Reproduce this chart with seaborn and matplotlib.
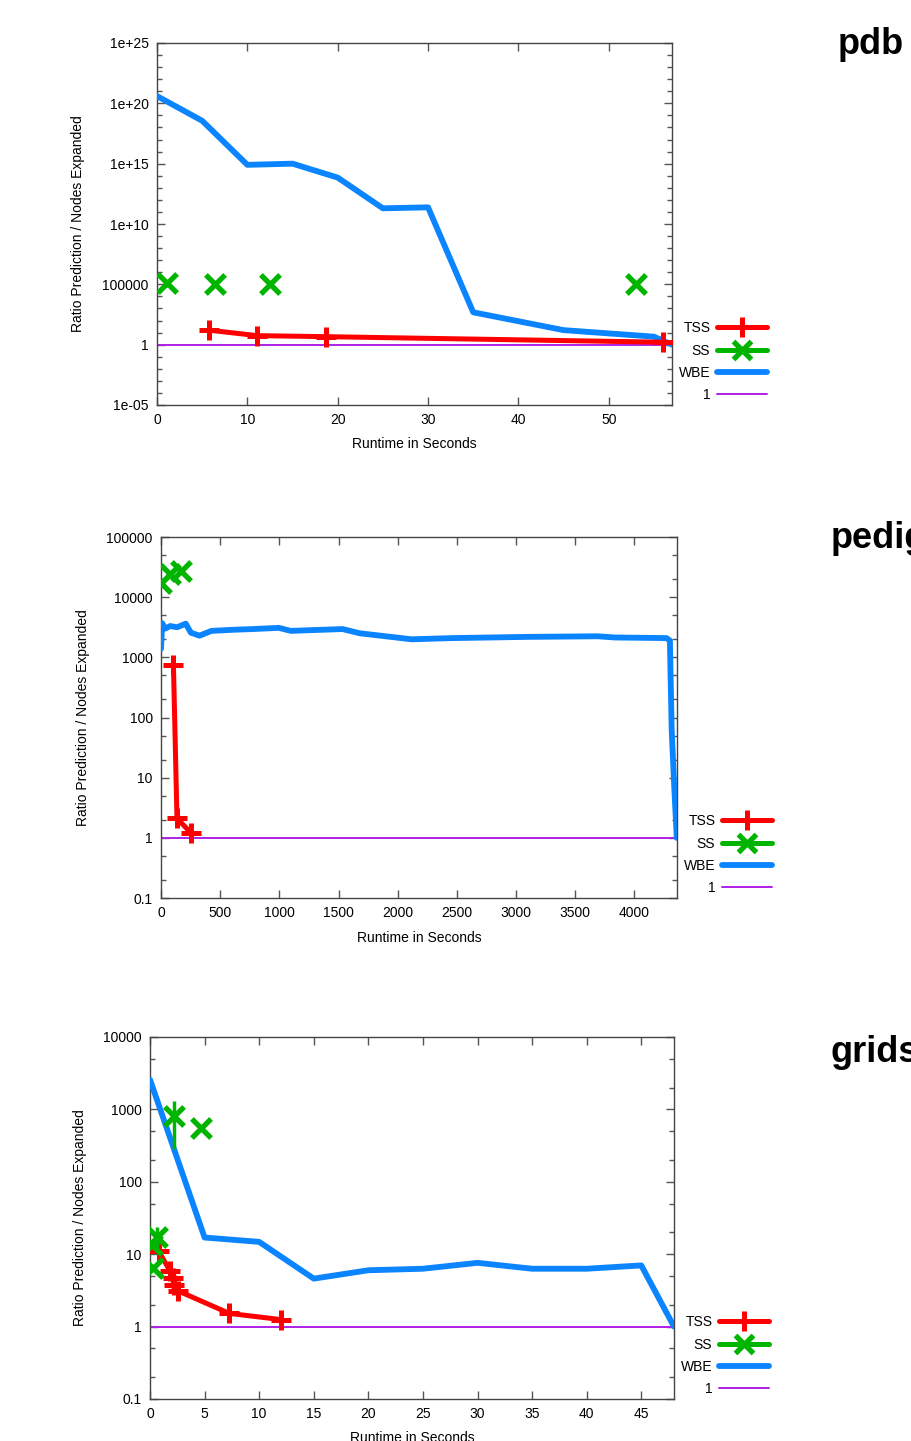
import numpy as np
import pandas as pd
import seaborn as sns
import matplotlib.pyplot as plt
from matplotlib.lines import Line2D
from matplotlib.ticker import LogLocator, NullFormatter, MultipleLocator, FixedLocator


# pdb
PDB_WBE_T = [0, 5, 10, 15, 20, 25, 30, 35, 45, 55, 57]
PDB_WBE_R = [4e20, 3.6e18, 8e14, 1e15, 7e13, 2e11, 2.4e11, 480, 16, 4.6, 1]
PDB_TSS_T = [5.7, 11.1, 18.7, 56]
PDB_TSS_R = [16, 5.6, 4.6, 1.6]
PDB_SS_T = [1.1, 6.4, 12.5, 53]
PDB_SS_R = [1.2e5, 1.1e5, 1.1e5, 1.1e5]
PDB_SS_LO = [0.6e5, 1.1e5, 1.1e5, 1.1e5]
PDB_SS_HI = [2.2e5, 1.1e5, 1.1e5, 1.1e5]

# pedigree
PED_WBE_T = [0, 10, 34, 78, 136, 209, 252, 325, 427, 631, 776, 995, 1097,
             1534, 1679, 1941, 2116, 2466, 3106, 3689, 3834, 4271, 4300,
             4315, 4335, 4358]
PED_WBE_R = [1380, 3700, 3000, 3311, 3162, 3630, 2570, 2290, 2754, 2884,
             2951, 3090, 2754, 2951, 2512, 2188, 1995, 2089, 2188, 2239,
             2138, 2089, 1900, 63, 8.3, 1]
PED_TSS_T = [105, 135, 255]
PED_TSS_R = [750, 2.1, 1.2]
PED_SS_T = [0, 80, 165]
PED_SS_R = [17000, 24000, 27000]

# grids
GRD_WBE_T = [0, 5, 10, 15, 20, 25, 30, 35, 40, 45, 48]
GRD_WBE_R = [2570, 17, 14.8, 4.6, 6.0, 6.3, 7.6, 6.3, 6.3, 7.0, 1]
GRD_TSS_T = [0.8, 1.85, 2.07, 2.2, 2.6, 7.27, 12.0]
GRD_TSS_R = [11, 5.8, 4.7, 3.8, 3.1, 1.52, 1.25]
GRD_SS_T = [0.2, 0.6, 0.3, 2.2, 4.7]
GRD_SS_R = [13.5, 17.5, 6.5, 800, 550]
GRD_SS_LO = [13.5, 11, 6.5, 280, 550]
GRD_SS_HI = [13.5, 24, 6.5, 1320, 550]

RED = '#ff0000'
GREEN = '#00b400'
BLUE = '#0a84ff'
PURPLE = '#b020e8'

W, H = 911, 1441


def px_axes(fig, left, right, top, bottom):
    return fig.add_axes([left / W, 1 - bottom / H, (right - left) / W, (bottom - top) / H])


def draw_panel(ax, wbe_t, wbe_r, tss_t, tss_r, ss_t, ss_r, ss_lo, ss_hi, xmax, ylim,
               xstep, ymajor, yfmt, ysubs):
    df_w = pd.DataFrame({'t': wbe_t, 'r': wbe_r})
    df_t = pd.DataFrame({'t': tss_t, 'r': tss_r})
    df_s = pd.DataFrame({'t': ss_t, 'r': ss_r})

    ax.axhline(1, color=PURPLE, lw=1.4, zorder=1)
    sns.lineplot(data=df_w, x='t', y='r', sort=False, estimator=None, color=BLUE,
                 lw=4.2, ax=ax, zorder=3)
    sns.lineplot(data=df_t, x='t', y='r', sort=False, estimator=None, color=RED,
                 lw=3.6, marker='+', markersize=15, markeredgewidth=3.6,
                 markeredgecolor=RED, ax=ax, zorder=4)
    if ss_lo is not None:
        ax.vlines(ss_t, ss_lo, ss_hi, color=GREEN, lw=2.5, zorder=4)
    sns.scatterplot(data=df_s, x='t', y='r', marker='x', s=190, linewidth=3.8,
                    color=GREEN, ax=ax, zorder=5)

    ax.set_yscale('log')
    ax.set_xlim(0, xmax)
    ax.set_ylim(*ylim)
    ax.xaxis.set_major_locator(MultipleLocator(xstep))
    ax.yaxis.set_major_locator(FixedLocator(ymajor))
    ax.yaxis.set_major_formatter(plt.FixedFormatter(yfmt))
    ax.yaxis.set_minor_locator(LogLocator(base=10, subs=ysubs, numticks=100))
    ax.yaxis.set_minor_formatter(NullFormatter())
    ax.tick_params(which='both', direction='in', top=True, right=True,
                   labelsize=10, color='#555555', labelcolor='black', pad=6)
    ax.tick_params(which='major', length=6, width=1)
    ax.tick_params(which='minor', length=3.5, width=1)
    for s in ax.spines.values():
        s.set_color('#444444')
        s.set_linewidth(1)

    ax.set_xlabel('Runtime in Seconds', fontsize=10, va='center', color='black')
    ax.set_ylabel('Ratio Prediction / Nodes Expanded', fontsize=10, va='center',
                  color='black')


def add_legend(ax, x_right_px, left_px, right_px):
    handles = [
        Line2D([], [], color=RED, lw=3.6, marker='+', markersize=15, markeredgewidth=3.6),
        Line2D([], [], color=GREEN, lw=3.6, marker='x', markersize=13, markeredgewidth=3.8),
        Line2D([], [], color=BLUE, lw=4.2),
        Line2D([], [], color=PURPLE, lw=1.4),
    ]
    labels = ['TSS', 'SS', 'WBE', '1']
    xa = (x_right_px - left_px) / (right_px - left_px)
    leg = ax.legend(handles, labels, loc='lower right', bbox_to_anchor=(xa, 0.0),
                    markerfirst=False, frameon=False, fontsize=10, handlelength=3.6,
                    handletextpad=0.5, labelspacing=0.6, borderaxespad=0.2,
                    borderpad=0)
    for t in leg.get_texts():
        t.set_color('black')


sns.set_theme(style='ticks')
plt.rcParams['font.family'] = ['Liberation Sans', 'DejaVu Sans']
plt.rcParams['text.color'] = 'black'

fig = plt.figure(figsize=(W / 100, H / 100), dpi=100)

# panel 1: pdb
ax1 = px_axes(fig, 157, 672, 43, 405)
draw_panel(ax1, PDB_WBE_T, PDB_WBE_R, PDB_TSS_T, PDB_TSS_R, PDB_SS_T, PDB_SS_R,
           PDB_SS_LO, PDB_SS_HI, 57, (1e-5, 1e25), 10,
           [1e-5, 1, 1e5, 1e10, 1e15, 1e20, 1e25],
           ['1e-05', '1', '100000', '1e+10', '1e+15', '1e+20', '1e+25'],
           [1.0])
ax1.yaxis.set_minor_locator(FixedLocator([10.0 ** k for k in range(-5, 26)]))
ax1.xaxis.set_label_coords(0.5, -(444 - 405) / 362)
ax1.yaxis.set_label_coords(-(157 - 78) / 515, 0.5)
add_legend(ax1, 770, 157, 672)

# panel 2: pedigree
ax2 = px_axes(fig, 161, 677, 537, 898)
draw_panel(ax2, PED_WBE_T, PED_WBE_R, PED_TSS_T, PED_TSS_R, PED_SS_T, PED_SS_R,
           None, None, 4360, (0.1, 1e5), 500,
           [0.1, 1, 10, 100, 1000, 10000, 100000],
           ['0.1', '1', '10', '100', '1000', '10000', '100000'],
           [2.0, 5.0])
ax2.xaxis.set_label_coords(0.5, -(938 - 898) / 361)
ax2.yaxis.set_label_coords(-(161 - 83) / 516, 0.5)
add_legend(ax2, 775, 161, 677)

# panel 3: grids
ax3 = px_axes(fig, 150, 674, 1037, 1399)
draw_panel(ax3, GRD_WBE_T, GRD_WBE_R, GRD_TSS_T, GRD_TSS_R, GRD_SS_T, GRD_SS_R,
           GRD_SS_LO, GRD_SS_HI, 48, (0.1, 1e4), 5,
           [0.1, 1, 10, 100, 1000, 10000],
           ['0.1', '1', '10', '100', '1000', '10000'],
           [2.0, 5.0])
ax3.xaxis.set_label_coords(0.5, -(1438 - 1399) / 362)
ax3.yaxis.set_label_coords(-(150 - 80) / 524, 0.5)
add_legend(ax3, 772, 150, 674)

for name, x, y in [('pdb', 838, 45), ('pedigree', 831, 538), ('grids', 831, 1053)]:
    fig.text(x / W, 1 - y / H, name, fontsize=26, fontweight='bold',
             ha='left', va='center', color='black')

fig.savefig('out.png', dpi=100)
